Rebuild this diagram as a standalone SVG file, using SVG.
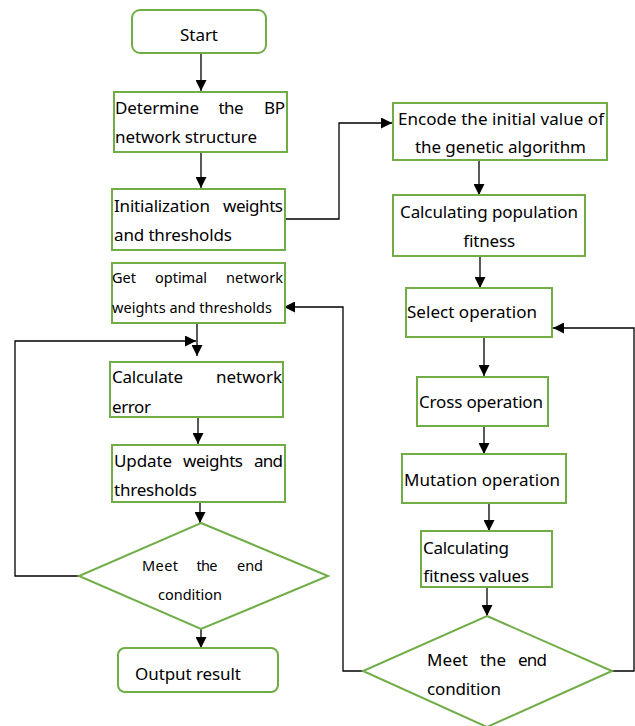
<svg xmlns="http://www.w3.org/2000/svg" width="635" height="726" viewBox="0 0 635 726">
<style>
.box{fill:#fff;stroke:#70ad47;stroke-width:2}
.t{font-family:"Noto Sans","Open Sans",sans-serif;font-size:17px;fill:#000}
.s{font-family:"Noto Sans","Open Sans",sans-serif;font-size:14.5px;fill:#000}
.e{text-anchor:end}
.m{text-anchor:middle}
.c{fill:none;stroke:#000;stroke-width:1.3}
</style>
<defs>
<marker id="ah" markerUnits="userSpaceOnUse" markerWidth="11" markerHeight="11" refX="10" refY="5" orient="auto" viewBox="0 0 10 10">
<path d="M0,0 L10,5 L0,10 z" fill="#000"/>
</marker>
</defs>
<rect width="635" height="726" fill="#fff"/>
<g id="connectors">
<line class="c" x1="201" y1="53" x2="201" y2="91" marker-end="url(#ah)"/>
<line class="c" x1="201" y1="143" x2="201" y2="188" marker-end="url(#ah)"/>
<polyline class="c" points="285,219 339,219 339,123 392,123" marker-end="url(#ah)"/>
<line class="c" x1="197" y1="323" x2="197" y2="356" marker-end="url(#ah)"/>
<polyline class="c" points="79,576 15,576 15,341 196,341" marker-end="url(#ah)"/>
<line class="c" x1="198" y1="417" x2="198" y2="444" marker-end="url(#ah)"/>
<line class="c" x1="200" y1="502" x2="200" y2="523" marker-end="url(#ah)"/>
<line class="c" x1="201" y1="629" x2="201" y2="648" marker-end="url(#ah)"/>
<line class="c" x1="479" y1="160" x2="479" y2="195" marker-end="url(#ah)"/>
<line class="c" x1="480" y1="256" x2="480" y2="288" marker-end="url(#ah)"/>
<line class="c" x1="484" y1="337" x2="484" y2="376" marker-end="url(#ah)"/>
<line class="c" x1="484" y1="426" x2="484" y2="454" marker-end="url(#ah)"/>
<line class="c" x1="489" y1="503" x2="489" y2="531" marker-end="url(#ah)"/>
<line class="c" x1="487" y1="587" x2="487" y2="616" marker-end="url(#ah)"/>
<polyline class="c" points="612,671 634,671 634,328 553,328" marker-end="url(#ah)"/>
<polyline class="c" points="363,671 343,671 343,307 284,307" marker-end="url(#ah)"/>
</g>
<g id="start">
<rect class="box" x="132" y="10" width="134" height="43" rx="8"/>
<text class="t" x="180" y="41" textLength="38">Start</text>
</g>
<g id="determine">
<rect class="box" x="114" y="92" width="173" height="60"/>
<text class="t" x="115" y="114" textLength="84">Determine</text>
<text class="t m" x="231" y="114" textLength="25">the</text>
<text class="t e" x="285" y="114" textLength="21">BP</text>
<text class="t" x="115" y="143" textLength="142">network structure</text>
</g>
<g id="init">
<rect class="box" x="112" y="189" width="173" height="61"/>
<text class="t" x="114" y="212" textLength="96">Initialization</text>
<text class="t e" x="283" y="212" textLength="60">weights</text>
<text class="t" x="114" y="241" textLength="118">and thresholds</text>
</g>
<g id="getopt">
<rect class="box" x="112" y="263" width="173" height="60"/>
<text class="s" x="112" y="283" textLength="24">Get</text>
<text class="s m" x="181" y="283" textLength="52">optimal</text>
<text class="s e" x="283" y="283" textLength="57">network</text>
<text class="s" x="112" y="313" textLength="160">weights and thresholds</text>
</g>
<g id="calcerr">
<rect class="box" x="110" y="362" width="173" height="55"/>
<text class="t" x="112" y="383" textLength="71">Calculate</text>
<text class="t e" x="282" y="383" textLength="66">network</text>
<text class="t" x="112" y="413" textLength="39">error</text>
</g>
<g id="update">
<rect class="box" x="112" y="445" width="173" height="57"/>
<text class="t" x="114" y="467" textLength="58">Update</text>
<text class="t m" x="213" y="467" textLength="60">weights</text>
<text class="t e" x="283" y="467" textLength="29">and</text>
<text class="t" x="114" y="496" textLength="83">thresholds</text>
</g>
<g id="decision1">
<polygon class="box" points="201,523 328,576 201,629 79,576"/>
<text class="s" x="142" y="571" textLength="36">Meet</text>
<text class="s m" x="207" y="571" textLength="21">the</text>
<text class="s e" x="263" y="571" textLength="26">end</text>
<text class="s" x="158" y="600" textLength="64">condition</text>
</g>
<g id="output">
<rect class="box" x="118" y="648" width="160" height="44" rx="7"/>
<text class="t" x="135" y="680" textLength="106">Output result</text>
</g>
<g id="encode">
<rect class="box" x="393" y="103" width="214" height="57"/>
<text class="t" x="398" y="125" textLength="206">Encode the initial value of</text>
<text class="t" x="415" y="153" textLength="171">the genetic algorithm</text>
</g>
<g id="calcpop">
<rect class="box" x="393" y="195" width="192" height="61"/>
<text class="t" x="400" y="218" textLength="178">Calculating population</text>
<text class="t" x="463" y="247" textLength="52">fitness</text>
</g>
<g id="select">
<rect class="box" x="406" y="288" width="146" height="49"/>
<text class="t" x="407" y="318" textLength="130">Select operation</text>
</g>
<g id="cross">
<rect class="box" x="417" y="377" width="131" height="49"/>
<text class="t" x="419" y="408" textLength="124">Cross operation</text>
</g>
<g id="mutation">
<rect class="box" x="402" y="454" width="164" height="49"/>
<text class="t" x="404" y="486" textLength="156">Mutation operation</text>
</g>
<g id="calcfit">
<rect class="box" x="421" y="531" width="131" height="56"/>
<text class="t" x="423" y="554" textLength="86">Calculating</text>
<text class="t" x="423" y="582" textLength="106">fitness values</text>
</g>
<g id="decision2">
<polygon class="box" points="487,616 612,671 487,727 363,671"/>
<text class="t" x="427" y="666" textLength="41">Meet</text>
<text class="t m" x="493" y="666" textLength="26">the</text>
<text class="t e" x="547" y="666" textLength="29">end</text>
<text class="t" x="427" y="695" textLength="74">condition</text>
</g>
</svg>
